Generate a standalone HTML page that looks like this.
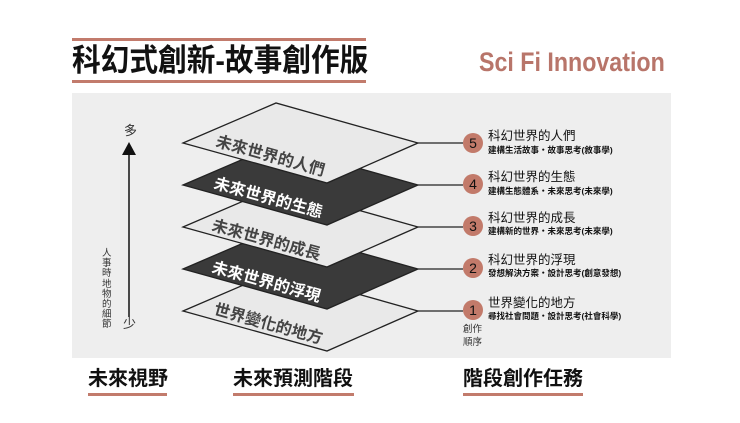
<!DOCTYPE html>
<html><head><meta charset="utf-8"><style>
body{margin:0;width:740px;height:423px;background:#fff;position:relative;overflow:hidden;font-family:"Liberation Sans","Noto Sans CJK TC",sans-serif;}
.a{position:absolute;white-space:nowrap;}
.bar{position:absolute;background:#c27b6c;}
.h{font-weight:bold;color:#111;}
</style></head><body>
<div class="bar" style="left:72px;top:38px;width:294px;height:3px"></div>
<div class="a h" style="left:72px;top:42px;font-size:31px;line-height:38px;transform:scaleX(0.925);transform-origin:left top">科幻式創新-故事創作版</div>
<div class="bar" style="left:72px;top:80px;width:294px;height:3px"></div>
<div class="a" style="left:479px;top:46px;font-size:27px;line-height:32px;font-weight:bold;color:#b8756a;transform:scaleX(0.86);transform-origin:left top">Sci Fi Innovation</div>
<div class="a" style="left:72px;top:93px;width:599px;height:265px;background:#eeeeee"></div>
<svg class="a" style="left:0;top:0" width="740" height="423" font-family="Liberation Sans, Noto Sans CJK TC, sans-serif">
<g stroke="#222" stroke-width="1.3">
<line x1="418" y1="311" x2="463" y2="311"/><line x1="418" y1="269" x2="463" y2="269"/><line x1="418" y1="227" x2="463" y2="227"/><line x1="418" y1="185" x2="463" y2="185"/><line x1="418" y1="143" x2="463" y2="143"/>
</g>
<g stroke="#222" stroke-width="1.3">
<polygon points="183,311 276,271 418,311 327,351" fill="#e9e9e9"/>
<polygon points="183,269 276,229 418,269 327,309" fill="#3a3a3a"/>
<polygon points="183,227 276,187 418,227 327,267" fill="#e9e9e9"/>
<polygon points="183,185 276,145 418,185 327,225" fill="#3a3a3a"/>
<polygon points="183,143 276,103 418,143 327,183" fill="#e9e9e9"/>
</g>
<g font-size="16" font-weight="bold">
<text transform="translate(215,146) rotate(15.5)" fill="#444">未來世界的人們</text>
<text transform="translate(213,188) rotate(15.5)" fill="#fff">未來世界的生態</text>
<text transform="translate(211,230) rotate(15.5)" fill="#444">未來世界的成長</text>
<text transform="translate(211,272) rotate(15.5)" fill="#fff">未來世界的浮現</text>
<text transform="translate(213,314) rotate(15.5)" fill="#444">世界變化的地方</text>
</g>
<g fill="#c27a6a"><circle cx="473" cy="143" r="10"/><circle cx="473" cy="184" r="10"/><circle cx="473" cy="226" r="10"/><circle cx="473" cy="268" r="10"/><circle cx="473" cy="310" r="10"/></g>
<g font-size="14" fill="#111" text-anchor="middle"><text x="473" y="148">5</text><text x="473" y="189">4</text><text x="473" y="231">3</text><text x="473" y="273">2</text><text x="473" y="315">1</text></g>
<g fill="#111"><text x="488" y="140" font-size="12.5">科幻世界的人們</text><text x="488" y="153" font-size="8.5" font-weight="bold">建構生活故事・故事思考(敘事學)</text>
<text x="488" y="181" font-size="12.5">科幻世界的生態</text><text x="488" y="194" font-size="8.5" font-weight="bold">建構生態體系・未來思考(未來學)</text>
<text x="488" y="222" font-size="12.5">科幻世界的成長</text><text x="488" y="234" font-size="8.5" font-weight="bold">建構新的世界・未來思考(未來學)</text>
<text x="488" y="264" font-size="12.5">科幻世界的浮現</text><text x="488" y="276" font-size="8.5" font-weight="bold">發想解決方案・設計思考(創意發想)</text>
<text x="488" y="307" font-size="12.5">世界變化的地方</text><text x="488" y="319" font-size="8.5" font-weight="bold">尋找社會問題・設計思考(社會科學)</text></g>
<g font-size="9.5" fill="#333"><text x="463" y="332">創作</text><text x="463" y="345">順序</text></g>
<line x1="129" y1="155" x2="129" y2="317" stroke="#111" stroke-width="1.5"/>
<polygon points="122,155 136,155 129,142" fill="#111"/>
<text x="124" y="135" font-size="13" fill="#333">多</text>
<text x="123" y="328" font-size="13" fill="#333">少</text>
</svg>
<div class="a" style="left:102px;top:249px;width:11px;font-size:9.5px;line-height:10.2px;color:#333;white-space:normal">人事時地物的細節</div>
<div class="a h" style="left:88px;top:366px;font-size:20px;line-height:26px">未來視野</div>
<div class="bar" style="left:88px;top:393px;width:79px;height:3px"></div>
<div class="a h" style="left:233px;top:366px;font-size:20px;line-height:26px">未來預測階段</div>
<div class="bar" style="left:233px;top:393px;width:121px;height:3px"></div>
<div class="a h" style="left:463px;top:366px;font-size:20px;line-height:26px">階段創作任務</div>
<div class="bar" style="left:463px;top:393px;width:120px;height:3px"></div>
</body></html>
